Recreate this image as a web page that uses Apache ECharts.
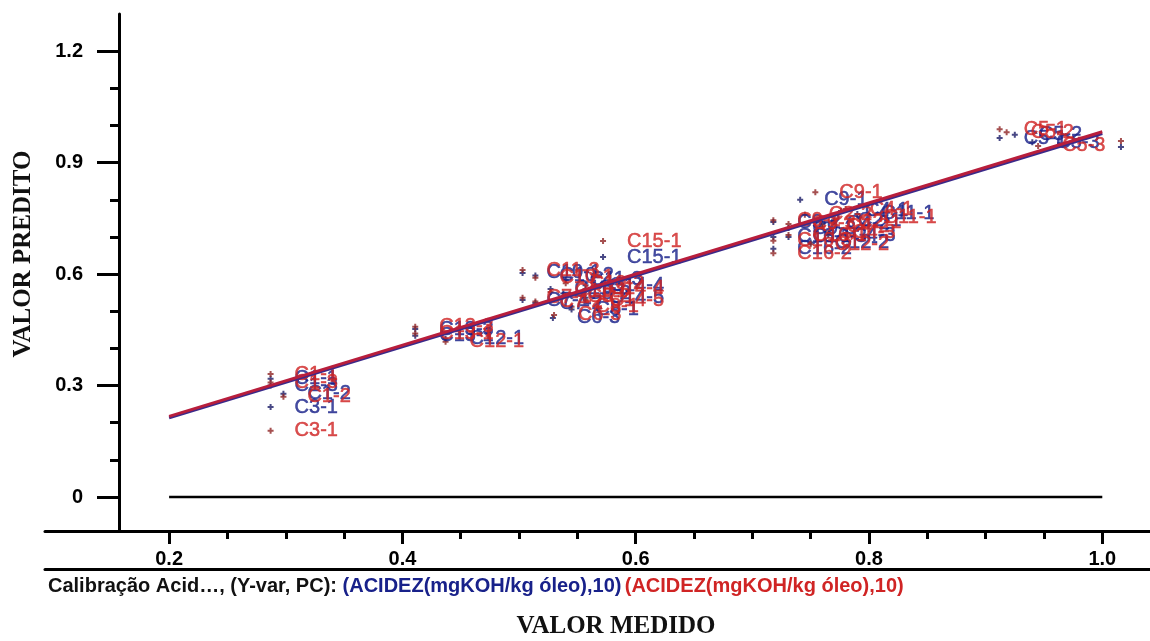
<!DOCTYPE html>
<html>
<head>
<meta charset="utf-8">
<script src="https://cdn.jsdelivr.net/npm/echarts@6/dist/echarts.min.js"></script>
<style>
html,body{margin:0;padding:0;background:#fff;}
#chart{width:1150px;height:641px;}
</style>
</head>
<body>
<div id="chart"></div>
<script>
// ---- data ----
const blueNames = ["C1-1","C1-3","C1-2","C3-1",
  "C13-3","C13-1","C12-1",
  "C10-1","C10-2","C7-1","C7-2","C11-1","C11-3","C14-4","C14-5","C6-3","C8-1","C8-2","C15-1",
  "C9-1","C9-2","C9-3","C16-1","C16-2","C16-3","C4-1","C11-1","C4-2","C4-3","C12-2","C2-1",
  "C5-1","C5-2","C5-3","C5-4"];
const blueX = [0.287,0.287,0.298,0.287,
  0.411,0.411,0.437,
  0.503,0.514,0.503,0.514,0.527,0.540,0.557,0.557,0.529,0.545,0.538,0.572,
  0.741,0.718,0.731,0.718,0.718,0.731,0.776,0.790,0.760,0.765,0.750,0.770,
  0.912,0.925,0.940,1.016];
const blueY = [0.318,0.300,0.278,0.242,
  0.452,0.434,0.426,
  0.603,0.596,0.530,0.522,0.560,0.585,0.570,0.536,0.482,0.505,0.548,0.646,
  0.800,0.740,0.724,0.700,0.668,0.700,0.770,0.762,0.735,0.705,0.685,0.745,
  0.966,0.975,0.955,0.942];

const redNames = ["C1-1","C1-3","C1-2","C3-1",
  "C13-3","C13-1","C12-1",
  "C11-3","C10-1","C7-1","C7-2","C11-1","C10-2","C14-4","C14-5","C6-3","C8-1","C8-2","C15-1",
  "C9-1","C9-2","C9-3","C16-1","C16-2","C16-3","C4-1","C11-1","C4-2","C4-3","C12-2","C2-1","C2-2",
  "C5-1","C5-2","C5-3","C5-4"];
const redX = [0.287,0.287,0.298,0.287,
  0.411,0.411,0.437,
  0.503,0.514,0.503,0.514,0.527,0.540,0.557,0.557,0.530,0.545,0.538,0.572,
  0.754,0.718,0.731,0.731,0.718,0.718,0.780,0.792,0.760,0.765,0.750,0.770,0.745,
  0.912,0.918,0.945,1.016];
const redY = [0.331,0.308,0.270,0.178,
  0.458,0.440,0.418,
  0.611,0.590,0.536,0.526,0.552,0.575,0.560,0.530,0.490,0.512,0.540,0.689,
  0.820,0.745,0.735,0.705,0.656,0.690,0.775,0.752,0.728,0.712,0.680,0.740,0.760,
  0.990,0.982,0.945,0.958];

const fitX = [0.2, 1.0];
const blueFitY = [0.213, 0.978];
const redFitY = [0.217, 0.983];
const zeroY = [0, 0];

const xMajorTicks = [0.2, 0.4, 0.6, 0.8, 1.0];
const xMinorTicks = [0.25,0.3,0.35,0.45,0.5,0.55,0.65,0.7,0.75,0.85,0.9,0.95];
const yMajorTicks = [0, 0.3, 0.6, 0.9, 1.2];
const yMinorTicks = [0.1,0.2,0.4,0.5,0.7,0.8,1.0,1.1];
const xTickLabels = ["0.2","0.4","0.6","0.8","1.0"];
const yTickLabels = ["0","0.3","0.6","0.9","1.2"];

const xTitle = "VALOR MEDIDO";
const yTitle = "VALOR PREDITO";
const captionLead = "Calibração Acid…, (Y-var, PC): ";
const captionBlue = "(ACIDEZ(mgKOH/kg óleo),10)";
const captionRed = "(ACIDEZ(mgKOH/kg óleo),10)";

// ---- chart ----
const X_MIN = 0.0936, X_MAX = 1.0409, Y_MIN = -0.0915, Y_MAX = 1.3;
const LABEL_X_LIMIT = 1.0; // labels of points beyond the last tick would leave the frame
const SANS = "'Liberation Sans', Arial, sans-serif";
const SERIF = "'Liberation Serif', 'Times New Roman', serif";
const BLUE_MARK = '#1a1c66', RED_MARK = '#8e2424';
const BLUE_TXT = '#18218a', RED_TXT = '#d02424';
const PLUS = 'path://M2,0h2v2h2v2h-2v2h-2v-2h-2v-2h2z';

const chart = echarts.init(document.getElementById('chart'), null, {renderer: 'canvas'});

function scatterSeries(names, xs, ys, markColor, txtColor) {
  return {
    type: 'scatter', z: 2,
    symbol: PLUS, symbolSize: 6,
    itemStyle: {color: markColor},
    label: {
      show: true, position: 'right', distance: 21,
      formatter: p => (p.data[0] > LABEL_X_LIMIT ? '' : p.data[2]),
      color: txtColor, fontFamily: SANS, fontSize: 20,
      textBorderColor: txtColor, textBorderWidth: 0.5
    },
    emphasis: {disabled: true},
    data: xs.map((x, i) => [x, ys[i], names[i]])
  };
}
function lineSeries(ys, color, w) {
  return {
    type: 'line', z: 3, symbol: 'none', silent: true,
    lineStyle: {color: color, width: w},
    data: fitX.map((x, i) => [x, ys[i]])
  };
}

const xLabelMap = {}; xMajorTicks.forEach((v, i) => xLabelMap[v.toFixed(2)] = xTickLabels[i]);
const yLabelMap = {}; yMajorTicks.forEach((v, i) => yLabelMap[v.toFixed(2)] = yTickLabels[i]);

const baseX = {type: 'value', min: X_MIN, max: X_MAX, position: 'bottom', splitLine: {show: false}};
const baseY = {type: 'value', min: Y_MIN, max: Y_MAX, position: 'left', offset: -74, splitLine: {show: false}};

chart.setOption({
  animation: false,
  backgroundColor: '#ffffff',
  grid: {left: 45, right: 0, top: 14, bottom: 110, containLabel: false},
  xAxis: [
    Object.assign({}, baseX, {
      axisLine: {show: true, onZero: false, lineStyle: {color: '#000', width: 3}},
      axisTick: {show: true, length: 13, customValues: xMajorTicks, lineStyle: {color: '#000', width: 3}},
      axisLabel: {show: true, customValues: xMajorTicks, margin: 18,
        formatter: v => xLabelMap[v.toFixed(2)] || '',
        color: '#000', fontFamily: SANS, fontWeight: 'bold', fontSize: 20}
    }),
    Object.assign({}, baseX, {
      axisLine: {show: false, onZero: false},
      axisTick: {show: true, length: 8, customValues: xMinorTicks, lineStyle: {color: '#000', width: 3}},
      axisLabel: {show: false}
    }),
    Object.assign({}, baseX, {
      offset: 38,
      axisLine: {show: true, onZero: false, lineStyle: {color: '#000', width: 3}},
      axisTick: {show: false}, axisLabel: {show: false}
    })
  ],
  yAxis: [
    Object.assign({}, baseY, {
      axisLine: {show: true, onZero: false, lineStyle: {color: '#000', width: 3}},
      axisTick: {show: true, length: 22, customValues: yMajorTicks, lineStyle: {color: '#000', width: 3}},
      axisLabel: {show: true, customValues: yMajorTicks, margin: 36,
        formatter: v => yLabelMap[v.toFixed(2)] || '',
        color: '#000', fontFamily: SANS, fontWeight: 'bold', fontSize: 20}
    }),
    Object.assign({}, baseY, {
      axisLine: {show: false, onZero: false},
      axisTick: {show: true, length: 9, customValues: yMinorTicks, lineStyle: {color: '#000', width: 3}},
      axisLabel: {show: false}
    })
  ],
  series: [
    scatterSeries(blueNames, blueX, blueY, BLUE_MARK, BLUE_TXT),
    scatterSeries(redNames, redX, redY, RED_MARK, RED_TXT),
    lineSeries(zeroY, '#000', 2.5),
    lineSeries(blueFitY, '#3b2a8a', 3),
    lineSeries(redFitY, '#b81e3c', 3)
  ],
  graphic: [
    {type: 'text', x: 24, y: 254, rotation: Math.PI / 2,
      style: {text: yTitle, font: 'bold 25px ' + SERIF, fill: '#111', align: 'center', verticalAlign: 'middle'}},
    {type: 'text', x: 616, y: 627,
      style: {text: xTitle, font: 'bold 25px ' + SERIF, fill: '#111', align: 'center', verticalAlign: 'middle'}},
    {type: 'text', x: 48, y: 586,
      style: {
        text: '{a|' + captionLead + '}{b|' + captionBlue + '} {c|' + captionRed + '}',
        verticalAlign: 'middle',
        rich: {
          a: {fontFamily: SANS, fontWeight: 'bold', fontSize: 20, fill: '#111'},
          b: {fontFamily: SANS, fontWeight: 'bold', fontSize: 20, fill: BLUE_TXT},
          c: {fontFamily: SANS, fontWeight: 'bold', fontSize: 20, fill: RED_TXT}
        }
      }}
  ]
});
</script>
</body>
</html>
